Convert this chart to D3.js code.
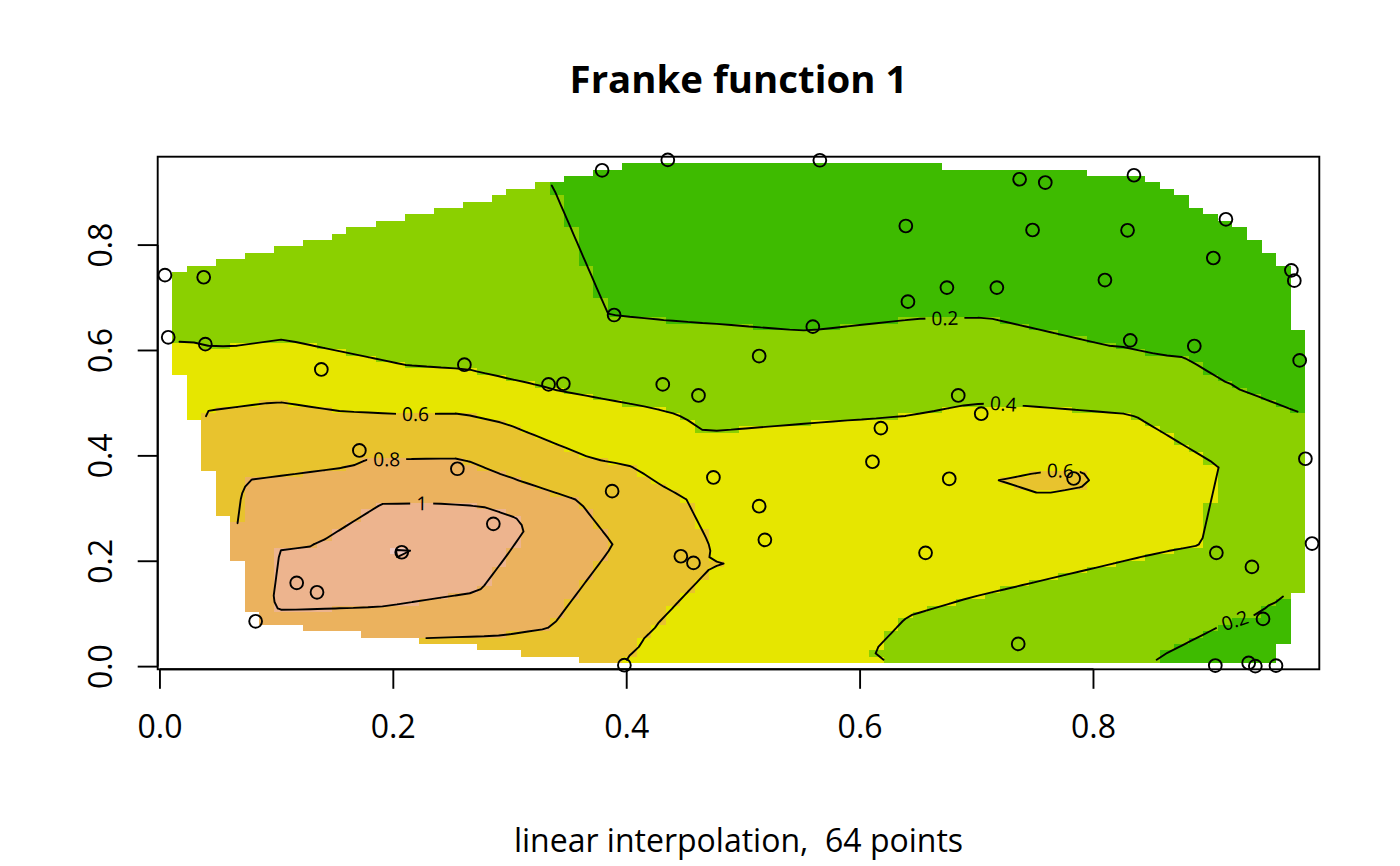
<!DOCTYPE html>
<html><head><meta charset="utf-8">
<script src="https://cdn.jsdelivr.net/npm/d3@7"></script>
<style>
body{margin:0;background:#fff}
svg{display:block}
text{font-family:"Open Sans","Noto Sans",sans-serif;fill:#000}
</style>
</head><body>
<svg id="chart" width="1400" height="866"></svg>
<script>
// ---------------- data ----------------
const ptX = [0.0043,0.0375,0.0071,0.0389,0.1383,0.2609,0.333,0.3457,0.3789,0.4352,0.5655,0.6392,0.6744,0.7172,0.641,0.3892,0.5595,0.5135,0.4309,0.4615,0.6841,0.7038,0.7367,0.7587,0.8347,0.7478,0.8292,0.9135,0.9027,0.8098,0.9696,0.9721,0.8315,0.8864,0.9767,0.1709,0.2549,0.2857,0.2072,0.1172,0.1346,0.082,0.6178,0.6106,0.6764,0.4743,0.3875,0.5135,0.5184,0.4464,0.4572,0.6561,0.398,0.783,0.9816,0.9873,0.9053,0.9358,0.9453,0.7355,0.9044,0.933,0.9387,0.9564];
const ptY = [0.743,0.739,0.625,0.612,0.564,0.573,0.5356,0.5369,0.942,0.9617,0.9610,0.8363,0.7193,0.7193,0.6927,0.6673,0.6452,0.5894,0.5356,0.5147,0.5147,0.48,0.925,0.9187,0.9326,0.8287,0.8281,0.849,0.7755,0.7337,0.7521,0.7325,0.6192,0.6084,0.5812,0.4103,0.3755,0.271,0.2171,0.159,0.1411,0.086,0.4527,0.3888,0.3565,0.359,0.333,0.3045,0.2406,0.2095,0.1969,0.2159,0.0027,0.357,0.3945,0.2336,0.2159,0.1893,0.0906,0.0431,0.0020,0.007,0.0010,0.0018];
const ptZ = [0.341,0.338,0.389,0.395,0.430,0.383,0.386,0.375,0.180,0.162,0.130,0.121,0.146,0.137,0.163,0.198,0.193,0.243,0.318,0.323,0.365,0.437,0.090,0.086,0.067,0.099,0.078,0.057,0.069,0.105,0.057,0.060,0.180,0.161,0.122,0.759,0.846,1.072,1.218,1.093,1.103,0.936,0.422,0.489,0.586,0.497,0.693,0.508,0.518,0.646,0.618,0.508,0.595,0.625,0.266,0.243,0.373,0.292,0.185,0.287,0.162,0.147,0.142,0.131];

const contourLevels = [0.2,0.4,0.6,0.8,1.0,1.2];
const colorBreaks = [0,0.2,0.4,0.6,0.8,1.0,1.2,1.4];
const terrainColors = ["#00A600","#3EBB00","#8BD000","#E6E600","#E8C32E","#EBB25E","#EDB48E","#F0C9C0","#F2F2F2"];
const xTicks = [0,0.2,0.4,0.6,0.8];
const yTicks = [0,0.2,0.4,0.6,0.8];
const labelLevel = [0.2,0.4,0.6,0.8,1.0,0.6,0.2];
const labelAtX = [0.6727,0.7227,0.2190,0.1943,0.2243,0.7717,0.9213];
const labelAtY = [0.660,0.496,0.478,0.3927,0.3098,0.3675,0.0861];
const titleText = "Franke function 1";
const subText = "linear interpolation,  64 points";
const gridN = 80;

// ---------------- layout ----------------
const W = 1400, H = 866;
const box = {l:157.7, r:1319.3, t:156.7, b:669.3};
const lw = 1.9;
const baseFont = 32;

const svg = d3.select("#chart");

// ---------------- linear interpolation on Delaunay triangles ----------------
const pts = ptX.map((x,i)=>[x,ptY[i]]);
const del = d3.Delaunay.from(pts);
const tri = del.triangles;
const [xmin,xmax] = d3.extent(ptX), [ymin,ymax] = d3.extent(ptY);
const gx = d3.range(gridN).map(i=>xmin+(xmax-xmin)*i/(gridN-1));
const gy = d3.range(gridN).map(j=>ymin+(ymax-ymin)*j/(gridN-1));
const dx = (xmax-xmin)/(gridN-1), dy = (ymax-ymin)/(gridN-1);
const Z = new Array(gridN*gridN).fill(NaN);
for (let t=0;t<tri.length;t+=3){
  const a=tri[t],b=tri[t+1],c=tri[t+2];
  const [x1,y1]=pts[a],[x2,y2]=pts[b],[x3,y3]=pts[c];
  const det=(y2-y3)*(x1-x3)+(x3-x2)*(y1-y3);
  if (Math.abs(det)<1e-14) continue;
  const i0=Math.max(0,Math.floor((Math.min(x1,x2,x3)-xmin)/dx)), i1=Math.min(gridN-1,Math.ceil((Math.max(x1,x2,x3)-xmin)/dx));
  const j0=Math.max(0,Math.floor((Math.min(y1,y2,y3)-ymin)/dy)), j1=Math.min(gridN-1,Math.ceil((Math.max(y1,y2,y3)-ymin)/dy));
  for (let j=j0;j<=j1;j++) for (let i=i0;i<=i1;i++){
    const px=gx[i], py=gy[j];
    const l1=((y2-y3)*(px-x3)+(x3-x2)*(py-y3))/det;
    const l2=((y3-y1)*(px-x3)+(x1-x3)*(py-y3))/det;
    const l3=1-l1-l2;
    const e=-1e-9;
    if (l1>=e && l2>=e && l3>=e && isNaN(Z[j*gridN+i])) Z[j*gridN+i]=l1*ptZ[a]+l2*ptZ[b]+l3*ptZ[c];
  }
}

// ---------------- scales ----------------
const X = d3.scaleLinear().domain([xmin-dx/2, xmax+dx/2]).range([box.l, box.r]);
const Y = d3.scaleLinear().domain([ymin-dy/2, ymax+dy/2]).range([box.b, box.t]);
const col = d3.scaleThreshold().domain(colorBreaks).range(terrainColors);

// ---------------- image ----------------
const cells = [];
for (let j=0;j<gridN;j++) for (let i=0;i<gridN;i++){
  const v=Z[j*gridN+i];
  if (!isNaN(v)) cells.push({i,j,v});
}
svg.append("g").attr("shape-rendering","crispEdges")
  .selectAll("rect").data(cells).join("rect")
  .attr("x",d=>X(gx[d.i]-dx/2))
  .attr("y",d=>Y(gy[d.j]+dy/2))
  .attr("width",d=>X(gx[d.i]+dx/2)-X(gx[d.i]-dx/2)+0.3)
  .attr("height",d=>Y(gy[d.j]-dy/2)-Y(gy[d.j]+dy/2)+0.3)
  .attr("fill",d=>col(d.v));

// ---------------- contours (marching squares, NA cells skipped) ----------------
function contourSegments(L){
  const segs=[];
  for (let j=0;j<gridN-1;j++) for (let i=0;i<gridN-1;i++){
    const c=[[i,j],[i+1,j],[i+1,j+1],[i,j+1]];
    const zc=c.map(([a,b])=>Z[b*gridN+a]);
    if (zc.some(isNaN)) continue;
    const cr=[];
    for (let e=0;e<4;e++){
      const za=zc[e], zb=zc[(e+1)%4];
      if ((za>=L)!==(zb>=L)){
        const t=(L-za)/(zb-za);
        const [ia,ja]=c[e],[ib,jb]=c[(e+1)%4];
        const x=gx[ia]+(gx[ib]-gx[ia])*t, y=gy[ja]+(gy[jb]-gy[ja])*t;
        cr.push({e,p:[X(x),Y(y)]});
      } else cr.push(null);
    }
    const hits=cr.filter(d=>d);
    if (hits.length===2) segs.push([hits[0].p,hits[1].p]);
    else if (hits.length===4){
      const center=d3.mean(zc);
      if ((center>=L)===(zc[0]>=L)){ segs.push([cr[0].p,cr[1].p]); segs.push([cr[2].p,cr[3].p]); }
      else { segs.push([cr[3].p,cr[0].p]); segs.push([cr[1].p,cr[2].p]); }
    }
  }
  return segs;
}
const segsByLevel = new Map(contourLevels.map(L=>[L,contourSegments(L)]));

// labels: snap to nearest contour point, orient along local contour
const fmt = v => String(+v.toFixed(2));
const labels = labelLevel.map((L,k)=>{
  const segs = segsByLevel.get(L);
  const ax=X(labelAtX[k]), ay=Y(labelAtY[k]);
  let best=null, bd=Infinity;
  segs.forEach(([p,q])=>{
    const vx=q[0]-p[0], vy=q[1]-p[1];
    const len2=vx*vx+vy*vy||1e-12;
    let t=((ax-p[0])*vx+(ay-p[1])*vy)/len2; t=Math.max(0,Math.min(1,t));
    const cx=p[0]+vx*t, cy=p[1]+vy*t;
    const d=(cx-ax)**2+(cy-ay)**2;
    if (d<bd){bd=d;best=[cx,cy];}
  });
  let sx=0, sy=0;
  segs.forEach(([p,q])=>{
    const mx=(p[0]+q[0])/2, my=(p[1]+q[1])/2;
    if (Math.hypot(mx-best[0],my-best[1])<16){
      let vx=q[0]-p[0], vy=q[1]-p[1];
      if (vx<0){vx=-vx;vy=-vy;}
      sx+=vx; sy+=vy;
    }
  });
  const ang = Math.atan2(sy,sx)*180/Math.PI;
  return {L, x:best[0], y:best[1], ang, text:fmt(L)};
});

const defs = svg.append("defs");
const mask = defs.append("mask").attr("id","lblmask").attr("maskUnits","userSpaceOnUse")
  .attr("x",0).attr("y",0).attr("width",W).attr("height",H);
mask.append("rect").attr("width",W).attr("height",H).attr("fill","#fff");

const lineG = svg.append("g").attr("mask","url(#lblmask)");
contourLevels.forEach(L=>{
  const segs=segsByLevel.get(L);
  lineG.append("path")
    .attr("d",segs.map(([p,q])=>`M${p[0].toFixed(2)},${p[1].toFixed(2)}L${q[0].toFixed(2)},${q[1].toFixed(2)}`).join(""))
    .attr("fill","none").attr("stroke","#000").attr("stroke-width",lw)
    .attr("stroke-linecap","round").attr("stroke-linejoin","round");
});

const lblG = svg.append("g");
labels.forEach(lb=>{
  const t = lblG.append("text")
    .attr("transform",`translate(${lb.x},${lb.y}) rotate(${lb.ang})`)
    .attr("text-anchor","middle").attr("dy","0.36em")
    .attr("font-size",baseFont*0.6).text(lb.text);
  const w = t.node().getComputedTextLength();
  mask.append("rect")
    .attr("transform",`translate(${lb.x},${lb.y}) rotate(${lb.ang})`)
    .attr("x",-w/2-6).attr("y",-9.5).attr("width",w+12).attr("height",19)
    .attr("fill","#000");
});

// ---------------- points ----------------
svg.append("g").selectAll("circle").data(pts).join("circle")
  .attr("cx",d=>X(d[0])).attr("cy",d=>Y(d[1])).attr("r",6.4)
  .attr("fill","none").attr("stroke","#000").attr("stroke-width",lw);

// ---------------- box & axes ----------------
svg.append("rect").attr("x",box.l).attr("y",box.t)
  .attr("width",box.r-box.l).attr("height",box.b-box.t)
  .attr("fill","none").attr("stroke","#000").attr("stroke-width",lw);

const ax = svg.append("g").attr("stroke","#000").attr("stroke-width",lw);
ax.append("line").attr("x1",X(xTicks[0])).attr("x2",X(xTicks[xTicks.length-1])).attr("y1",box.b).attr("y2",box.b);
ax.selectAll(".xt").data(xTicks).join("line").attr("class","xt")
  .attr("x1",d=>X(d)).attr("x2",d=>X(d)).attr("y1",box.b).attr("y2",box.b+19.5);
ax.append("line").attr("y1",Y(yTicks[0])).attr("y2",Y(yTicks[yTicks.length-1])).attr("x1",box.l).attr("x2",box.l);
ax.selectAll(".yt").data(yTicks).join("line").attr("class","yt")
  .attr("y1",d=>Y(d)).attr("y2",d=>Y(d)).attr("x1",box.l).attr("x2",box.l-20);

const f1 = d3.format(".1f");
svg.append("g").selectAll("text").data(xTicks).join("text")
  .attr("x",d=>X(d)).attr("y",738.3).attr("text-anchor","middle")
  .attr("font-size",baseFont).text(d=>f1(d));
svg.append("g").selectAll("text").data(yTicks).join("text")
  .attr("transform",d=>`translate(111.7,${Y(d)}) rotate(-90)`).attr("text-anchor","middle")
  .attr("font-size",baseFont).text(d=>f1(d));

// ---------------- titles ----------------
const cx = (box.l+box.r)/2;
svg.append("text").attr("x",cx).attr("y",92.7).attr("text-anchor","middle")
  .attr("font-size",baseFont*1.2).attr("font-weight","bold").text(titleText);
svg.append("text").attr("x",cx).attr("y",852.3).attr("text-anchor","middle")
  .attr("font-size",baseFont).style("white-space","pre").text(subText);
</script>
</body></html>
